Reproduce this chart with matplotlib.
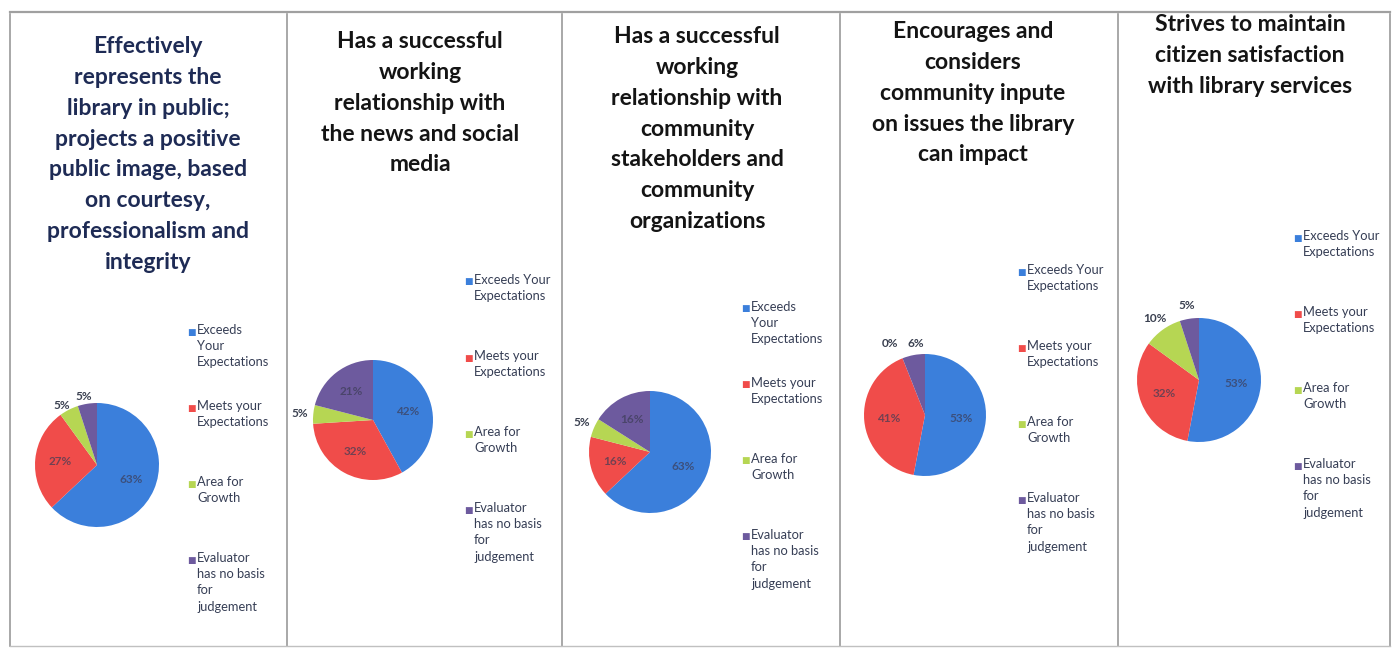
import numpy as np
import matplotlib.pyplot as plt
from matplotlib.lines import Line2D

plt.rcParams['font.family'] = ['Lato', 'DejaVu Sans']

W, H = 1396, 650

categories = ['Exceeds Your Expectations', 'Meets your Expectations',
              'Area for Growth', 'Evaluator has no basis for judgement']
colors = ['#3b7fdb', '#f04c4a', '#b6d653', '#6d5a9e']

titles = [
    'Effectively\nrepresents the\nlibrary in public;\nprojects a positive\npublic image, based\non courtesy,\nprofessionalism and\nintegrity',
    'Has a successful\nworking\nrelationship with\nthe news and social\nmedia',
    'Has a successful\nworking\nrelationship with\ncommunity\nstakeholders and\ncommunity\norganizations',
    'Encourages and\nconsiders\ncommunity inpute\non issues the library\ncan impact',
    'Strives to maintain\ncitizen satisfaction\nwith library services',
]

# percentage per category, one list per panel
vals_public_image = [63, 27, 5, 5]
vals_news_media = [42, 32, 5, 21]
vals_stakeholders = [63, 16, 5, 16]
vals_community_input = [53, 41, 0, 6]
vals_satisfaction = [53, 32, 10, 5]
panel_values = [vals_public_image, vals_news_media, vals_stakeholders,
                vals_community_input, vals_satisfaction]

# legend text wrapping differs per panel
wrap_a = ['Exceeds\nYour\nExpectations', 'Meets your\nExpectations',
          'Area for\nGrowth', 'Evaluator\nhas no basis\nfor\njudgement']
wrap_b = ['Exceeds Your\nExpectations', 'Meets your\nExpectations',
          'Area for\nGrowth', 'Evaluator\nhas no basis\nfor\njudgement']
legend_text = [wrap_a, wrap_b, wrap_a, wrap_b, wrap_b]

# layout in pixels
title_pos = [(148, 47), (420, 42), (697, 37), (973, 32), (1250, 25)]
title_col = ['#1e2b55', '#141414', '#141414', '#141414', '#141414']
pie_pos = [(97, 465, 62), (373, 420, 60), (650, 452, 61), (925, 415, 61), (1199, 380, 62)]
leg_pos = [(191, 332), (468, 282), (745, 309), (1021, 272), (1297, 238)]
leg_step = 76
outside = [[False, False, True, True], [False, False, True, False],
           [False, False, True, False], [False, False, True, True],
           [False, False, True, True]]
# small shifts (in pie radii) for crowded outside labels
nudge = {(0, 2): (-0.02, -0.12), (0, 3): (-0.03, -0.1),
         (3, 2): (-0.12, 0.03), (3, 3): (0.08, -0.02)}

fig = plt.figure(figsize=(W / 100, H / 100), dpi=100)
fig.patch.set_facecolor('white')


def fx(x):
    return x / W


def fy(y):
    return 1 - y / H


# frame and panel separators
for x in [10, 287, 562, 840, 1118, 1390]:
    fig.add_artist(Line2D([fx(x), fx(x)], [fy(14), fy(646)], color='#9a9a9a', lw=1.2))
fig.add_artist(Line2D([fx(10), fx(1390)], [fy(12), fy(12)], color='#a0a0a0', lw=1.6))
fig.add_artist(Line2D([fx(10), fx(1390)], [fy(646), fy(646)], color='#c0c0c0', lw=1.0))

for i, vals in enumerate(panel_values):
    tx, ty = title_pos[i]
    fig.text(fx(tx), fy(ty - 11), titles[i], ha='center', va='top', fontsize=16.5,
             fontweight='bold', color=title_col[i], linespacing=1.58)

    cx, cy, r = pie_pos[i]
    ax = fig.add_axes([fx(cx - r), fy(cy + r), 2 * r / W, 2 * r / H])
    wedges, _ = ax.pie(vals, colors=colors, startangle=90, counterclock=False,
                       radius=1.0, wedgeprops=dict(linewidth=0))
    ax.set_xlim(-1, 1)
    ax.set_ylim(-1, 1)
    ax.set_aspect('equal')
    for k, (w, v, out) in enumerate(zip(wedges, vals, outside[i])):
        ang = np.deg2rad((w.theta1 + w.theta2) / 2)
        if out:
            d = 1.22
            dx, dy = nudge.get((i, k), (0, 0))
            ax.text(d * np.cos(ang) + dx, d * np.sin(ang) + dy, f'{v}%', ha='center',
                    va='center', fontsize=8.5, fontweight='bold', color='#3a4050')
        else:
            d = 0.6
            ax.text(d * np.cos(ang), d * np.sin(ang), f'{v}%', ha='center', va='center',
                    fontsize=8.5, fontweight='bold', color='#3c3c55', alpha=0.7)

    lx, ly = leg_pos[i]
    for k, lab in enumerate(legend_text[i]):
        yy = ly + k * leg_step
        fig.text(fx(lx), fy(yy), '\u25a0', ha='center', va='center',
                 fontsize=6.5, color=colors[k], family='DejaVu Sans')
        fig.text(fx(lx + 6), fy(yy - 8), lab, ha='left', va='top', fontsize=9.3,
                 color='#363e55', linespacing=1.42)

fig.savefig('out.png', dpi=100)
